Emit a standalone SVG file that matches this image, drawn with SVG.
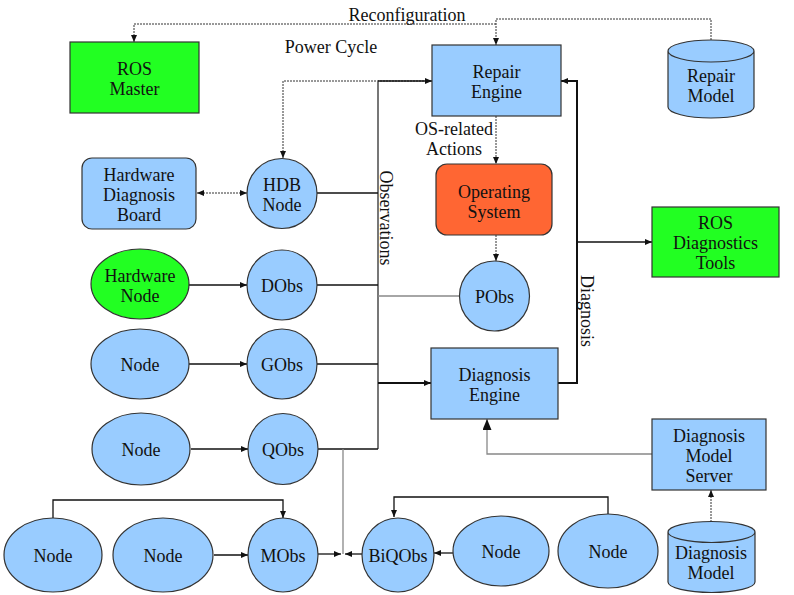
<svg xmlns="http://www.w3.org/2000/svg" width="794" height="595" viewBox="0 0 794 595">
<style>
text{font-family:"Liberation Serif","Times New Roman",serif;font-size:18px;fill:#111;text-anchor:middle}
.b{fill:#99ccff;stroke:#333;stroke-width:1.2}
.g{fill:#22ff22;stroke:#333;stroke-width:1.2}
.o{fill:#ff6633;stroke:#333;stroke-width:1.2}
.c{fill:none;stroke:#111;stroke-width:1.3}
.t{stroke-width:2}
.gr{fill:none;stroke:#888;stroke-width:1.3}
.gb{fill:none;stroke:#777;stroke-width:2}
.d{fill:none;stroke:#333;stroke-width:1;stroke-dasharray:2,1}
</style>
<defs>
<marker id="a" markerUnits="userSpaceOnUse" markerWidth="8" markerHeight="7" refX="7" refY="3" orient="auto"><path d="M0,0L7,3L0,6z" fill="#111"/></marker>
<marker id="as" markerUnits="userSpaceOnUse" markerWidth="8" markerHeight="7" refX="0" refY="3" orient="auto"><path d="M7,0L0,3L7,6z" fill="#111"/></marker>
<marker id="A" markerUnits="userSpaceOnUse" markerWidth="12" markerHeight="10" refX="11" refY="4.5" orient="auto"><path d="M0,0L11,4.5L0,9z" fill="#111"/></marker>
</defs>
<g id="connectors">
<path class="d" d="M496,24H134V42" marker-end="url(#a)"/>
<path class="d" d="M711,40V19H496V45" marker-end="url(#a)"/>
<path class="d" d="M430,81H283V158" marker-end="url(#a)"/>
<path class="gb" d="M378,81V449"/>
<path class="c" d="M378,81H432" marker-end="url(#a)"/>
<path class="c" d="M317,193H378"/>
<path class="c" d="M317,285H378"/>
<path class="gr" d="M459,296H378"/>
<path class="c" d="M317,364H378"/>
<path class="c t" d="M378,383H431" marker-end="url(#a)"/>
<path class="c" d="M318,449H378"/>
<path class="gr" d="M343,449V554"/>
<path class="c" d="M318,554H341" marker-end="url(#a)"/>
<path class="c" d="M362,554H345" marker-end="url(#a)"/>
<path class="c" d="M214,555H248" marker-end="url(#a)"/>
<path class="c" d="M53,518V500H283V518" marker-end="url(#a)"/>
<path class="c" d="M453,553H434" marker-end="url(#a)"/>
<path class="c" d="M608,515V497H394V517" marker-end="url(#a)"/>
<path class="c" d="M189,285H247" marker-end="url(#a)"/>
<path class="c" d="M189,364H247" marker-end="url(#a)"/>
<path class="c" d="M191,449H248" marker-end="url(#a)"/>
<path class="d" d="M197,193H247" marker-start="url(#as)" marker-end="url(#a)"/>
<path class="d" d="M496,116V164" marker-end="url(#a)"/>
<path class="d" d="M496,235V261" marker-end="url(#a)"/>
<path class="c t" d="M558,383H577V81H561" marker-end="url(#a)"/>
<path class="c" d="M577,242H652" marker-end="url(#a)"/>
<path class="gr" d="M652,454H487V419" marker-end="url(#A)"/>
<path class="d" d="M711,522V490" marker-end="url(#a)"/>
<text x="407" y="21">Reconfiguration</text>
<text x="331" y="53">Power Cycle</text>
<text x="454" y="135">OS-related</text>
<text x="454" y="155">Actions</text>
<text x="380" y="218" transform="rotate(90 380 218)">Observations</text>
<text x="581" y="311" transform="rotate(90 581 311)">Diagnosis</text>
</g>
<g id="ros-master"><rect class="g" x="70" y="42" width="129" height="71"/><text x="134.5" y="75">ROS</text><text x="134.5" y="95">Master</text></g>
<g id="repair-engine"><rect class="b" x="432" y="45" width="129" height="71"/><text x="496.5" y="78">Repair</text><text x="496.5" y="98">Engine</text></g>
<g id="repair-model"><path class="b" d="M668,51V107A43,11 0 0 0 754,107V51A43,11 0 0 0 668,51A43,11 0 0 0 754,51"/><text x="711" y="82">Repair</text><text x="711" y="102">Model</text></g>
<g id="hw-board"><rect class="b" x="82" y="158" width="114" height="71" rx="10"/><text x="139" y="181">Hardware</text><text x="139" y="201">Diagnosis</text><text x="139" y="221">Board</text></g>
<g id="hdb-node"><circle class="b" cx="282" cy="193.5" r="35"/><text x="282" y="191">HDB</text><text x="282" y="211">Node</text></g>
<g id="os"><rect class="o" x="436" y="164" width="116" height="71" rx="11"/><text x="494" y="198">Operating</text><text x="494" y="218">System</text></g>
<g id="ros-diag-tools"><rect class="g" x="652" y="207" width="127" height="70"/><text x="715.5" y="229">ROS</text><text x="715.5" y="249">Diagnostics</text><text x="715.5" y="269">Tools</text></g>
<g id="hw-node"><ellipse class="g" cx="140" cy="284" rx="49" ry="35"/><text x="140" y="282">Hardware</text><text x="140" y="302">Node</text></g>
<g id="dobs"><circle class="b" cx="282" cy="285" r="35"/><text x="282" y="292">DObs</text></g>
<g id="pobs"><circle class="b" cx="494.5" cy="296" r="35"/><text x="494.5" y="303">PObs</text></g>
<g id="node-g"><ellipse class="b" cx="140" cy="364" rx="49" ry="35"/><text x="140" y="371">Node</text></g>
<g id="gobs"><circle class="b" cx="282" cy="364" r="35"/><text x="282" y="371">GObs</text></g>
<g id="diagnosis-engine"><rect class="b" x="431" y="348" width="127" height="71"/><text x="494.5" y="381">Diagnosis</text><text x="494.5" y="401">Engine</text></g>
<g id="node-q"><ellipse class="b" cx="141" cy="449" rx="49" ry="36"/><text x="141" y="456">Node</text></g>
<g id="qobs"><ellipse class="b" cx="283" cy="449" rx="35" ry="35.5"/><text x="283" y="456">QObs</text></g>
<g id="dms"><rect class="b" x="652" y="419" width="114" height="71"/><text x="709" y="442">Diagnosis</text><text x="709" y="462">Model</text><text x="709" y="482">Server</text></g>
<g id="node-1"><ellipse class="b" cx="53" cy="555" rx="49" ry="37"/><text x="53" y="562">Node</text></g>
<g id="node-2"><ellipse class="b" cx="163" cy="555" rx="50" ry="37"/><text x="163" y="562">Node</text></g>
<g id="mobs"><ellipse class="b" cx="283" cy="555" rx="35" ry="37"/><text x="283" y="562">MObs</text></g>
<g id="biqobs"><ellipse class="b" cx="398" cy="555" rx="36" ry="37"/><text x="398" y="562">BiQObs</text></g>
<g id="node-3"><ellipse class="b" cx="501" cy="551" rx="48" ry="35"/><text x="501" y="558">Node</text></g>
<g id="node-4"><ellipse class="b" cx="608" cy="551" rx="50" ry="37"/><text x="608" y="558">Node</text></g>
<g id="diagnosis-model"><path class="b" d="M668,532V582A43.5,10.5 0 0 0 755,582V532A43.5,10.5 0 0 0 668,532A43.5,10.5 0 0 0 755,532"/><text x="711" y="559">Diagnosis</text><text x="711" y="579">Model</text></g>
</svg>
